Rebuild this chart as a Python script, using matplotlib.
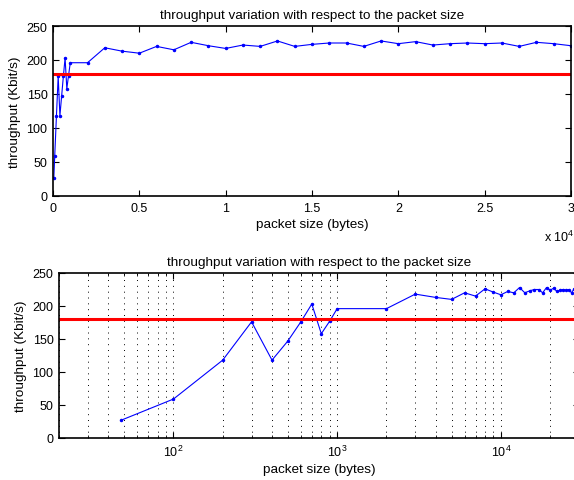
import numpy as np
import matplotlib
matplotlib.use("Agg")
import matplotlib.pyplot as plt
from matplotlib.ticker import FuncFormatter, MultipleLocator

plt.rcParams['font.family'] = ['Liberation Sans', 'DejaVu Sans']
plt.rcParams['mathtext.default'] = 'regular'
plt.rcParams['font.size'] = 9

# packet sizes (bytes) and measured throughput (Kbit/s)
packet_size = [48, 100, 200, 300, 400, 500, 600, 700, 800, 900,
               1000, 2000, 3000, 4000, 5000, 6000, 7000, 8000, 9000, 10000,
               11000, 12000, 13000, 14000, 15000, 16000, 17000, 18000, 19000, 20000,
               21000, 22000, 23000, 24000, 25000, 26000, 27000, 28000, 29000, 30000]
throughput = [27, 59, 118, 176, 118, 147, 176, 203, 158, 177,
              196, 196, 218, 213, 210, 220, 215, 226, 221, 217,
              222, 220, 228, 220, 223, 225, 225, 220, 228, 224,
              227, 222, 224, 225, 224, 225, 220, 226, 224, 221]
reference_rate = 180

title = "throughput variation with respect to the packet size"
xlab = "packet size (bytes)"
ylab = "throughput (Kbit/s)"

fig = plt.figure(figsize=(5.74, 4.81), dpi=100)
ax1 = fig.add_axes([53 / 574, 1 - 197 / 481, 518 / 574, 170 / 481])
ax2 = fig.add_axes([59 / 574, 1 - 439 / 481, 520 / 574, 165 / 481])


def style(ax):
    for s in ax.spines.values():
        s.set_linewidth(1.2)
    ax.tick_params(which='both', direction='in', top=True, right=True,
                   labelsize=9, pad=4)
    ax.tick_params(which='major', length=4, width=0.8)
    ax.tick_params(which='minor', length=2, width=0.6)
    ax.set_ylim(0, 250)
    ax.yaxis.set_major_locator(MultipleLocator(50))
    ax.set_title(title, fontsize=9.7, pad=6)
    ax.set_xlabel(xlab, fontsize=9.7, labelpad=3)
    ax.set_ylabel(ylab, fontsize=9.7, labelpad=4)


# linear x axis
ax1.plot(packet_size, throughput, '.-', color='#0000ff', lw=0.8, ms=3)
ax1.axhline(reference_rate, color='#ff0000', lw=2.2)
ax1.set_xlim(0, 30000)
ax1.xaxis.set_major_locator(MultipleLocator(5000))
ax1.xaxis.set_major_formatter(FuncFormatter(lambda v, p: f"{v / 1e4:g}"))
style(ax1)
ax1.text(1.006, -0.235, "x 10$^4$", transform=ax1.transAxes,
         ha='right', va='center', fontsize=9)

# log x axis
ax2.grid(which='both', axis='x', linestyle=(0, (1, 5)), color='k', lw=0.7)
ax2.set_axisbelow(True)
ax2.semilogx(packet_size, throughput, '.-', color='#0000ff', lw=0.8, ms=3)
ax2.axhline(reference_rate, color='#ff0000', lw=2.2)
ax2.set_xlim(20, 30000)
style(ax2)

fig.savefig("out.png", dpi=100)
